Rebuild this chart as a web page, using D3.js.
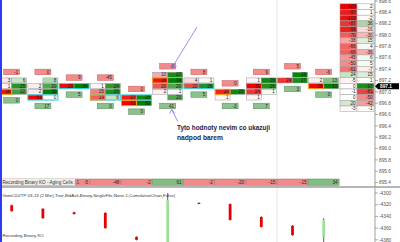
<!DOCTYPE html>
<html><head><meta charset="utf-8">
<script src="https://cdn.jsdelivr.net/npm/d3@7"></script>
<style>html,body{margin:0;padding:0;background:#fff;overflow:hidden}svg{display:block;font-family:"Liberation Sans",Arial,sans-serif}</style>
</head><body><svg id="c" width="400" height="242"></svg>
<script>
// ---------- DATA ----------
const bars = [0, 1, 2, 3, 4, 5, 6, 7, 8, 9, 10];
const topPrice = [897.2, 897.2, 897.1, 897.1, 896.9, 897.3, 897.2, 897.0, 897.2, 897.3, 897.2];
const bidVol = [[3, 1, 28], [null, 2, 2, 51], [29], [1, 15, 19], [27, 31], [10, 28, 20, 2, null], [4, 22], [26, 1], [1, 31, 24, 1], [null, 24], [2, 38]];
const askVol = [[6, 25, 22], [8, 20, 30, 0], [34], [24, 26, 6], [28, 30], [27, 34, 20, 1, 20], [1, 26], [28, null], [28, 26, 1, null], [29, 27], [13, 33]];
const topLabel = [-1, 0, 9, -45, 0, -8, 8, 0, 9, 5, -6];
const bottomLabel = [0, 17, 5, 0, 0, 41, 5, -3, 7, 3, 0];
const pocPrice = [897.0, null, null, 896.9, 896.8, 897.2, null, 897.0, null, null, 897.1];
const vaPrice = [null, 896.9, 897.1, 896.9, 896.9, null, 897.1, null, null, null, null];
const agingDelta = [-3, 8, -5, -48, -2, 61, -2, -20, -15, -15, 34];

const ladderPrices = [898.5, 898.4, 898.3, 898.2, 898.1, 898.0, 897.9, 897.8, 897.7, 897.6, 897.5, 897.4, 897.3, 897.2, 897.1, 897.0, 896.9, 896.8, 896.7];
const ladderBid = [-109, -97, -102, -87, -96, -70, -38, -66, -68, -45, -50, -61, 24, -5, 0, -1, 0, 20, -3];
const ladderAsk = [2, 1, -2, 36, -16, -30, 15, 4, -36, 6, 5, -7, 15, 1, 97, -81, -50, -42, -1];
const lastPrice = 897.1;
const priceTicks = [898.6, 898.4, 898.2, 898.0, 897.8, 897.6, 897.4, 897.2, 897.0, 896.8, 896.6, 896.4, 896.2, 896.0, 895.8, 895.6, 895.4];

const deltaOpen  = [-4321, -4327, -4333, -4334, -4375, -4385, -4317, -4319, -4341, -4356, -4375];
const deltaClose = [-4331, -4343, -4336, -4360, -4380, -4312, -4318, -4346, -4358, -4372, -4346];
const deltaHigh  = [-4320, -4326, -4332, -4333, -4374, -4300, -4316, -4318, -4340, -4355, -4343];
const deltaLow   = [-4332, -4344, -4337, -4361, -4381, -4392, -4319, -4347, -4359, -4373, -4386];
const deltaTicks = [-4300, -4320, -4340, -4360, -4380];

const panelTitle = "Recording Binary KO - Aging Cells : 1";
const lowerTitle = "GomCD2TP 03-13 (2 Min),True,BidAsk,Binary,SingleFile,None,1,CumulativeChart,False)";
const bottomTitle = "Recording Binary KO";
const note1 = "Tyto hodnoty nevim co ukazuji";
const note2 = "nadpod barem";

// ---------- SCALES ----------
const svg = d3.select("#c");
const x = d3.scaleLinear().domain([0, 10]).range([11.7, 323.7]);
const y = d3.scaleLinear().domain([898.6, 895.4]).range([1, 182.6]);
const yd = d3.scaleLinear().domain([-4300, -4380]).range([193, 239.8]);
const rowH = Math.abs(y(898.5) - y(898.6));
const cellW = 15;
const bidColor = d3.scaleLinear().domain([0, 12, 30]).range(["#ffffff", "#f49a9a", "#f00000"]).clamp(true);
const askColor = d3.scaleLinear().domain([0, 12, 30]).range(["#ffffff", "#8cc88c", "#008000"]).clamp(true);
const ladColor = d3.scaleLinear().domain([-110, 0, 110]).range(["#e60000", "#ffffff", "#007a00"]).clamp(true);
const fmt = d => String(d);

svg.append("rect").attr("width", 400).attr("height", 242).attr("fill", "#fff");
svg.append("line").attr("x1", 277).attr("x2", 277).attr("y1", 0).attr("y2", 242).attr("stroke", "#dcdcdc").attr("stroke-width", 0.7);

const main = svg.append("g");

// cells
bars.forEach(i => {
  const g = main.append("g");
  const rows = bidVol[i].map((b, k) => ({ p: +(topPrice[i] - k * 0.1).toFixed(1), b, a: askVol[i][k] }));
  const xc = x(i);
  rows.forEach(r => {
    const yc = y(r.p);
    if (r.b !== null) {
      g.append("rect").attr("x", xc - cellW).attr("y", yc - rowH / 2 + 0.3).attr("width", cellW).attr("height", rowH - 0.6)
        .attr("fill", bidColor(r.b)).attr("stroke", "#9a9a9a").attr("stroke-width", 0.5);
      g.append("text").attr("x", xc - 1.5).attr("y", yc + 1.6).attr("text-anchor", "end").attr("font-size", 4.6).attr("fill", "#222").text(fmt(r.b));
    }
    if (r.a !== null) {
      g.append("rect").attr("x", xc).attr("y", yc - rowH / 2 + 0.3).attr("width", cellW).attr("height", rowH - 0.6)
        .attr("fill", askColor(r.a)).attr("stroke", "#9a9a9a").attr("stroke-width", 0.5);
      g.append("text").attr("x", xc + cellW - 1.5).attr("y", yc + 1.6).attr("text-anchor", "end").attr("font-size", 4.6).attr("fill", "#222").text(fmt(r.a));
    }
  });
  if (vaPrice[i] !== null) {
    g.append("rect").attr("x", xc - cellW).attr("y", y(vaPrice[i]) - rowH / 2 + 0.3).attr("width", cellW * 2).attr("height", rowH - 0.6)
      .attr("fill", "none").attr("stroke", "#22e0f0").attr("stroke-width", 0.9);
  }
  if (pocPrice[i] !== null) {
    g.append("rect").attr("x", xc - cellW).attr("y", y(pocPrice[i]) - rowH / 2 + 0.3).attr("width", cellW).attr("height", rowH - 0.6)
      .attr("fill", "none").attr("stroke", "#ff9a00").attr("stroke-width", 0.9);
  }
  const lo = rows[rows.length - 1].p;
  const ty = y(topPrice[i] + 0.15);
  g.append("rect").attr("x", xc - 8).attr("y", ty - 2.8).attr("width", 16).attr("height", 5.6)
    .attr("fill", "#f28c8c").attr("stroke", "#c46060").attr("stroke-width", 0.5);
  g.append("text").attr("x", xc + 6.5).attr("y", ty + 1.7).attr("text-anchor", "end").attr("font-size", 4.6).attr("fill", "#222").text(fmt(topLabel[i]));
  const by = y(lo - 0.15);
  g.append("rect").attr("x", xc - 8).attr("y", by - 2.8).attr("width", 16).attr("height", 5.6)
    .attr("fill", "#8cc08c").attr("stroke", "#5a8a5a").attr("stroke-width", 0.5);
  g.append("text").attr("x", xc + 6.5).attr("y", by + 1.7).attr("text-anchor", "end").attr("font-size", 4.6).attr("fill", "#222").text(fmt(bottomLabel[i]));
});

// ladder
const lx = 340, lw = 17;
ladderPrices.forEach((p, k) => {
  const yc = y(p);
  main.append("rect").attr("x", lx).attr("y", yc - rowH / 2).attr("width", lw).attr("height", rowH)
    .attr("fill", ladColor(ladderBid[k])).attr("stroke", "#a0a0a0").attr("stroke-width", 0.5);
  main.append("text").attr("x", lx + lw - 1.5).attr("y", yc + 1.6).attr("text-anchor", "end").attr("font-size", 4.6).attr("fill", "#222").text(fmt(ladderBid[k]));
  main.append("rect").attr("x", lx + lw).attr("y", yc - rowH / 2).attr("width", lw).attr("height", rowH)
    .attr("fill", ladColor(ladderAsk[k])).attr("stroke", "#a0a0a0").attr("stroke-width", 0.5);
  main.append("text").attr("x", lx + 2 * lw - 1.5).attr("y", yc + 1.6).attr("text-anchor", "end").attr("font-size", 4.6).attr("fill", "#222").text(fmt(ladderAsk[k]));
});

// aging strip
const sy = 179, labelEnd = 75;
bars.forEach(i => {
  const v = agingDelta[i];
  svg.append("rect").attr("x", x(i) - 15.4).attr("y", sy).attr("width", 30.8).attr("height", 6.4)
    .attr("fill", v < 0 ? "#f08a8a" : "#82be82").attr("stroke", v < 0 ? "#b86060" : "#508a50").attr("stroke-width", 0.5);
  if (x(i) + 14 - 8 > labelEnd) {
    svg.append("text").attr("x", x(i) + 14).attr("y", sy + 4.8).attr("text-anchor", "end").attr("font-size", 4.6).attr("fill", "#222").text(fmt(v));
  }
});
svg.append("rect").attr("x", 0).attr("y", sy).attr("width", labelEnd).attr("height", 6.4).attr("fill", "#eeeeee");
svg.append("text").attr("x", 2.5).attr("y", sy + 4.8).attr("font-size", 4.6).attr("fill", "#333").text(panelTitle);

// price axis
svg.append("line").attr("x1", 375).attr("x2", 375).attr("y1", 0).attr("y2", 187).attr("stroke", "#777").attr("stroke-width", 0.7);
priceTicks.forEach(t => {
  svg.append("line").attr("x1", 375).attr("x2", 378).attr("y1", y(t)).attr("y2", y(t)).attr("stroke", "#777").attr("stroke-width", 0.6);
  svg.append("text").attr("x", 379).attr("y", y(t) + 1.7).attr("font-size", 4.8).attr("fill", "#555").text(t.toFixed(1));
});
const ly = y(lastPrice);
svg.append("path").attr("d", `M375,${ly} L378,${ly - 3} L399,${ly - 3} L399,${ly + 3} L378,${ly + 3} Z`).attr("fill", "#000");
svg.append("text").attr("x", 380).attr("y", ly + 1.8).attr("font-size", 4.8).attr("font-weight", "bold").attr("fill", "#fff").text(lastPrice.toFixed(1));

// separator
svg.append("line").attr("x1", 0).attr("x2", 400).attr("y1", 187).attr("y2", 187).attr("stroke", "#6e6e6e").attr("stroke-width", 1);

// lower panel
svg.append("text").attr("x", 2.5).attr("y", 197).attr("font-size", 4.4).attr("fill", "#333").text(lowerTitle);
svg.append("line").attr("x1", 375).attr("x2", 375).attr("y1", 188).attr("y2", 242).attr("stroke", "#777").attr("stroke-width", 0.7);
deltaTicks.forEach(t => {
  svg.append("line").attr("x1", 375).attr("x2", 378).attr("y1", yd(t)).attr("y2", yd(t)).attr("stroke", "#777").attr("stroke-width", 0.6);
  svg.append("text").attr("x", 379).attr("y", yd(t) + 1.7).attr("font-size", 4.8).attr("fill", "#555").text(t);
});
const lower = svg.append("g");
bars.forEach(i => {
  const up = deltaClose[i] > deltaOpen[i];
  lower.append("line").attr("x1", x(i)).attr("x2", x(i)).attr("y1", yd(deltaHigh[i])).attr("y2", yd(deltaLow[i]))
    .attr("stroke", up ? "#333" : "#5a0000").attr("stroke-width", 0.8);
  const y0 = Math.min(yd(deltaOpen[i]), yd(deltaClose[i])), y1 = Math.max(yd(deltaOpen[i]), yd(deltaClose[i]));
  lower.append("rect").attr("x", x(i) - 1.4).attr("y", y0).attr("width", 2.8).attr("height", Math.max(1, y1 - y0))
    .attr("fill", up ? "#9de09d" : "#e60000");
});
svg.append("text").attr("x", 2.5).attr("y", 237).attr("font-size", 4.4).attr("fill", "#333").text(bottomTitle);

// annotations
const ac = "#7878e8";
const c5 = 5;
const tip1 = [x(c5) + 4, y(topPrice[c5] + 0.15) + 2];
svg.append("line").attr("x1", 197).attr("y1", 27).attr("x2", tip1[0]).attr("y2", tip1[1]).attr("stroke", ac).attr("stroke-width", 0.8);
svg.append("path").attr("d", `M${tip1[0] + 1},${tip1[1] - 5} L${tip1[0]},${tip1[1]} L${tip1[0] + 5},${tip1[1] - 2}`).attr("fill", "none").attr("stroke", ac).attr("stroke-width", 0.8);
const lo5 = topPrice[c5] - (bidVol[c5].length - 1) * 0.1;
const tip2 = [x(c5) + 4, y(lo5 - 0.15) + 3.5];
svg.append("line").attr("x1", tip2[0]).attr("y1", tip2[1]).attr("x2", tip2[0] + 6).attr("y2", tip2[1] + 12).attr("stroke", ac).attr("stroke-width", 0.8);
svg.append("path").attr("d", `M${tip2[0] - 2},${tip2[1] + 4} L${tip2[0]},${tip2[1]} L${tip2[0] + 3},${tip2[1] + 4}`).attr("fill", "none").attr("stroke", ac).attr("stroke-width", 0.8);
svg.append("text").attr("x", 177).attr("y", 129.5).attr("font-size", 6.8).attr("font-weight", "bold").attr("fill", "#1c1c48")
  .attr("textLength", 93).attr("lengthAdjust", "spacingAndGlyphs").text(note1);
svg.append("text").attr("x", 177).attr("y", 139.5).attr("font-size", 6.8).attr("font-weight", "bold").attr("fill", "#1c1c48")
  .attr("textLength", 46).attr("lengthAdjust", "spacingAndGlyphs").text(note2);

// left blue border
svg.append("rect").attr("x", 0).attr("y", 0).attr("width", 2).attr("height", 242).attr("fill", "#2c3cf0");
</script></body></html>
